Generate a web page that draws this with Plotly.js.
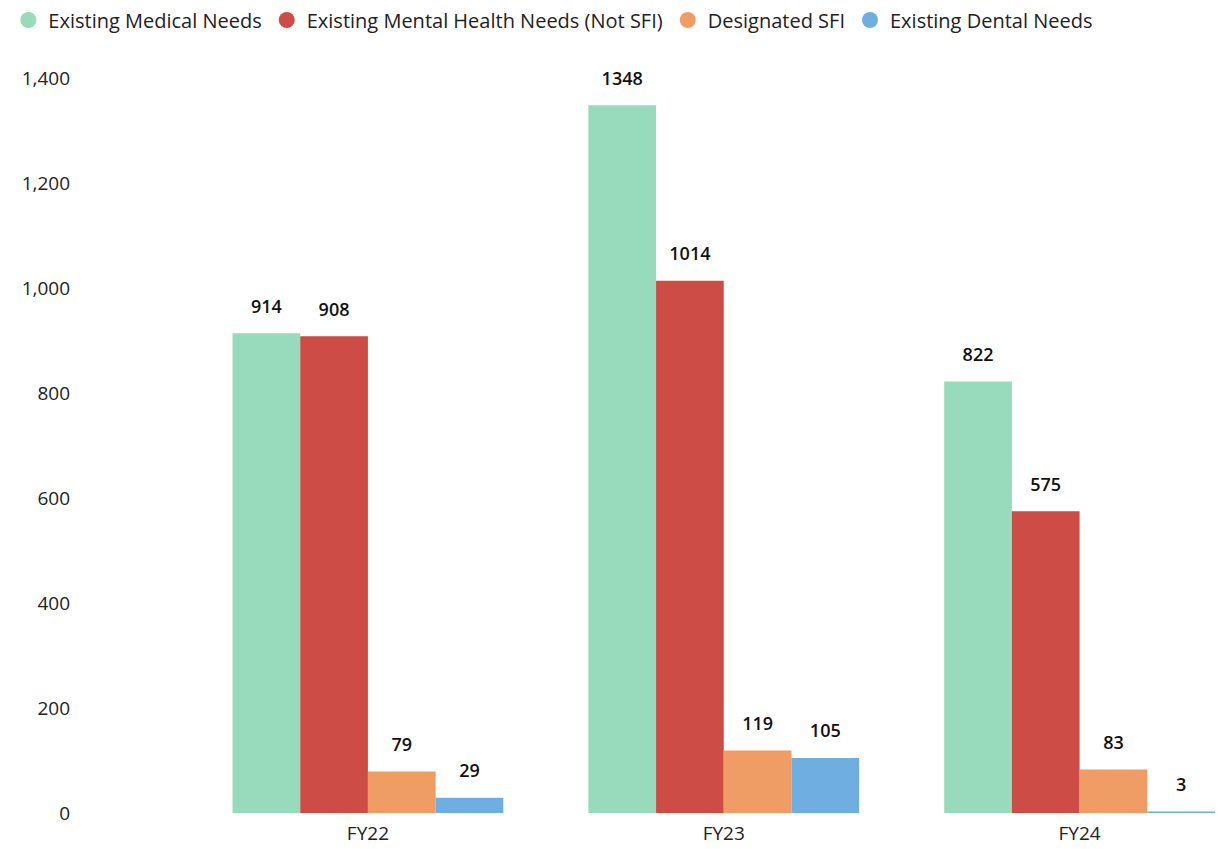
<!DOCTYPE html>
<html><head><meta charset="utf-8">
<script src="https://cdn.plot.ly/plotly-3.0.1.min.js"></script>
<style>html,body{margin:0;padding:0;background:#fff;}#c{width:1218px;height:849px;}</style>
</head><body><div id="c"></div>
<script>
const categories = ["FY22", "FY23", "FY24"];
const seriesNames = ["Existing Medical Needs", "Existing Mental Health Needs (Not SFI)", "Designated SFI", "Existing Dental Needs"];
const medical = [914, 1348, 822];
const mental = [908, 1014, 575];
const sfi = [79, 119, 83];
const dental = [29, 105, 3];
const yTicks = [0, 200, 400, 600, 800, 1000, 1200, 1400];
const colors = ["#97DBBC", "#CD4C46", "#EF9D65", "#6FAEE0"];

const values = [medical, mental, sfi, dental];
const font = "Open Sans, Noto Sans, sans-serif";
const traces = [];
values.forEach((v, i) => {
  traces.push({
    type: "bar", x: categories, y: v, name: seriesNames[i], offsetgroup: "g" + i,
    marker: {color: colors[i]}, showlegend: false, hoverinfo: "x+y"
  });
});
values.forEach((v, i) => {
  traces.push({
    type: "scatter", mode: "markers+text", x: categories, y: v, offsetgroup: "g" + i,
    marker: {size: 24, color: "rgba(0,0,0,0)"}, showlegend: false, cliponaxis: false,
    text: v.map(String), textposition: "top center",
    textfont: {family: font, size: 18, color: "#111", weight: 600}, hoverinfo: "skip"
  });
});
values.forEach((v, i) => {
  traces.push({
    type: "scatter", mode: "markers", x: [null], y: [null], name: seriesNames[i], offsetgroup: "g" + i,
    marker: {color: colors[i], size: 18, symbol: "circle"}, showlegend: true
  });
});
const layout = {
  width: 1218, height: 849,
  margin: {l: 190, r: 0, t: 78, b: 36},
  paper_bgcolor: "#fff", plot_bgcolor: "#fff",
  barmode: "group", bargap: 0.239, bargroupgap: 0,
  scattermode: "group", scattergap: 0.239,
  font: {family: font, size: 19, color: "#222"},
  showlegend: true,
  legend: {orientation: "h", x: -0.1767, xref: "paper", y: 1.1054, yref: "paper", yanchor: "top",
           xanchor: "left", font: {size: 20, color: "#222"}, itemwidth: 30, traceorder: "normal"},
  xaxis: {type: "category", range: [-0.5, 2.389], showgrid: false, zeroline: false, showline: false,
          ticks: "", ticklabelstandoff: 7, tickfont: {size: 19, color: "#222"}, fixedrange: true},
  yaxis: {range: [0, 1400], tickvals: yTicks, ticktext: yTicks.map(t => t.toLocaleString("en-US")),
          showgrid: false, zeroline: false, showline: false, ticks: "",
          ticklabelstandoff: 119, tickfont: {size: 19, color: "#222"}, fixedrange: true}
};
Plotly.newPlot("c", traces, layout, {displayModeBar: false, staticPlot: true});
</script></body></html>
